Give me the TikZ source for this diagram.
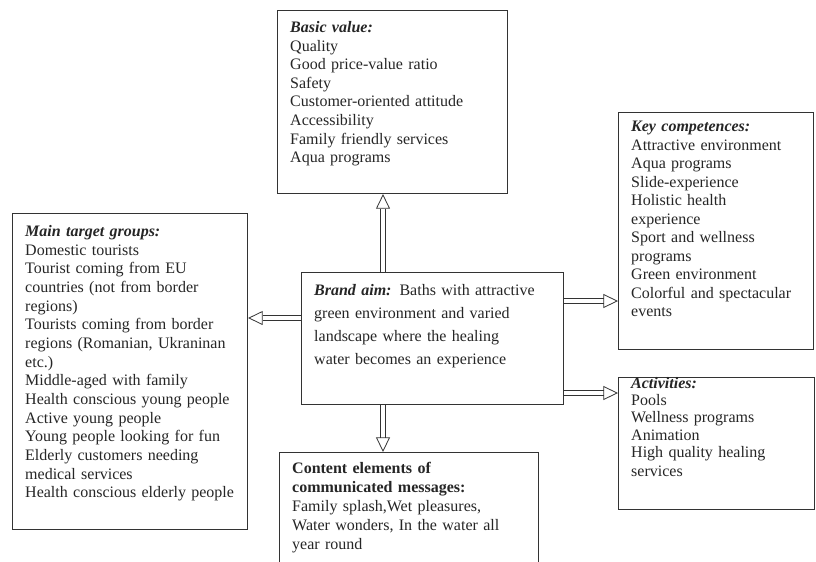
\documentclass[tikz,border=0pt]{standalone}
\usepackage{fontspec}
\setmainfont{Liberation Serif}
\usepackage{tikz}
\usetikzlibrary{arrows.meta,calc}

\begin{document}
\begin{tikzpicture}[x=0.75pt, y=-0.75pt]
    \tikzstyle{panel} = [rectangle, draw=black!80, line width=0.8pt, anchor=north west, align=left, inner xsep=9.5pt, inner ysep=0pt, text=black!85, font=\fontsize{12}{14}\selectfont]
    \tikzstyle{line} = [draw=black!80, line width=0.6pt, double=white, double distance=3.6pt, -{Triangle[open, length=11pt, width=10.5pt, line width=0.6pt]}]

    \useasboundingbox (0,0) rectangle (816,561);
    \clip (0,0) rectangle (816,561);
    \fill [white] (0,0) rectangle (816,561);

    \node [panel, text width=153.5pt, text height=16.5pt, text depth=120.75pt, font=\fontsize{12}{13.95}\selectfont] (basic) at (277,10)
        {\textbf{\textit{Basic value:}}\\ Quality\\ Good price-value ratio\\ Safety\\ Customer-oriented attitude\\ Accessibility\\ Family friendly services\\ Aqua programs};
    \node [panel, text width=127.25pt, text height=14.25pt, text depth=163.5pt, font=\fontsize{12}{13.9}\selectfont] (keycomp) at (618,112)
        {\textbf{\textit{Key competences:}}\\ Attractive environment\\ Aqua programs\\ Slide-experience\\ Holistic health\\ experience\\ Sport and wellness\\ programs\\ Green environment\\ Colorful and spectacular\\ events};
    \node [panel, text width=157.25pt, text height=17.25pt, text depth=219.75pt, font=\fontsize{12}{14}\selectfont] (target) at (12,213)
        {\textbf{\textit{Main target groups:}}\\ Domestic tourists\\ Tourist coming from EU\\ countries (not from border\\ regions)\\ Tourists coming from border\\ regions (Romanian, Ukraninan\\ etc.)\\ Middle-aged with family\\ Health conscious young people\\ Active young people\\ Young people looking for fun\\ Elderly customers needing\\ medical services\\ Health conscious elderly people};
    \node [panel, text width=177.5pt, text height=17.25pt, text depth=81.75pt, font=\fontsize{12}{17.25}\selectfont] (brand) at (301,272)
        {\textbf{\textit{Brand aim:}} Baths with attractive\\ green environment and varied\\ landscape where the healing\\ water becomes an experience};
    \node [panel, text width=175.25pt, text height=15.75pt, text depth=76.5pt, font=\fontsize{12}{14.25}\selectfont] (content) at (279,452)
        {\textbf{Content elements of}\\ \textbf{communicated messages:}\\ Family splash,Wet pleasures,\\ Water wonders, In the water all\\ year round};
    \node [panel, text width=128pt, text height=8pt, text depth=91pt, font=\fontsize{12}{13}\selectfont] (activities) at (618,377)
        {\textbf{\textit{Activities:}}\\ Pools\\ Wellness programs\\ Animation\\ High quality healing\\[1pt] services};

    % hollow arrows out of the brand aim
    \coordinate (upfoot) at ([xshift=61.5pt]brand.north west);
    \coordinate (downfoot) at ([xshift=61.5pt]brand.south west);
    \coordinate (leftfoot) at ([yshift=-34.5pt]brand.north west);
    \coordinate (rightfoot) at ([yshift=-21.75pt]brand.north east);
    \coordinate (lowfoot) at ([yshift=-90.75pt]brand.north east);

    \path [line] (upfoot) -- (upfoot |- basic.south);
    \path [line] (downfoot) -- (downfoot |- content.north);
    \path [line] (leftfoot) -- (leftfoot -| target.east);
    \path [line] (rightfoot) -- (rightfoot -| keycomp.west);
    \path [line] (lowfoot) -- (lowfoot -| activities.west);
\end{tikzpicture}
\end{document}
